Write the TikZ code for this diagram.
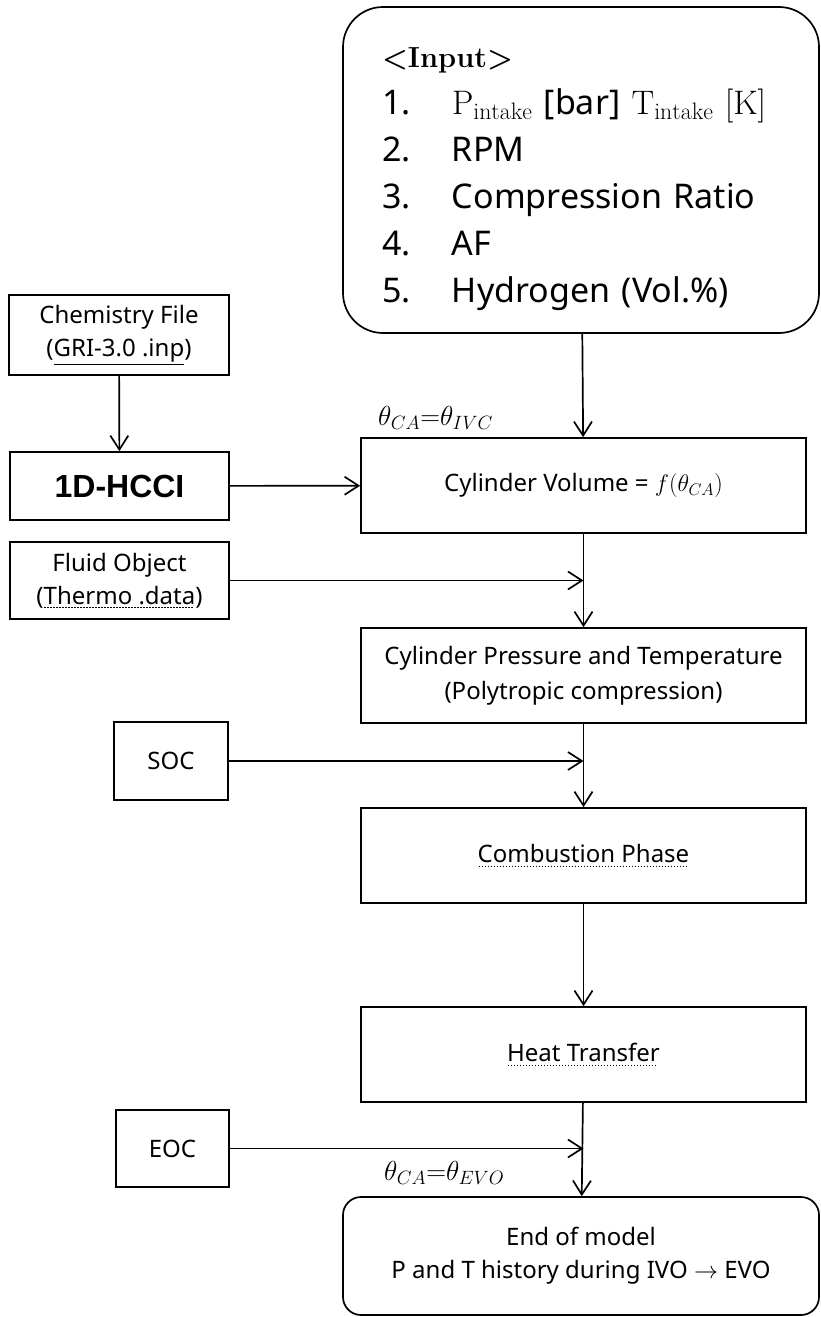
\documentclass[tikz,border=0pt]{standalone}
\usepackage{fix-cm}
\usepackage{fontspec}
\setsansfont{Noto Sans}
\newfontfamily\hccifont{Liberation Sans}
\usetikzlibrary{arrows.meta,positioning}
\newcommand{\dotul}[1]{\setbox0\hbox{#1}\rlap{\raisebox{-4pt}{\hbox to \wd0{\leaders\hbox to 3pt{\hss\rule{1.4pt}{0.9pt}\hss}\hfill}}}\box0}
\tikzstyle{box}=[draw, line width=1.7pt, rectangle, inner sep=0pt, align=center, font=\sffamily\fontsize{24}{33}\selectfont]
\tikzstyle{mainBox}=[box, minimum width=445pt, minimum height=95pt, font=\sffamily\fontsize{24}{35}\selectfont]
\tikzstyle{endBox}=[box, rounded corners=18pt, minimum width=476pt, minimum height=118pt]
\tikzstyle{inputBox}=[draw, line width=1.7pt, rounded corners=40pt, inner sep=0pt, align=left, text width=398pt, minimum width=476pt, minimum height=326pt, font=\sffamily\fontsize{34}{47}\selectfont]
\tikzstyle{edge}=[-{Straight Barb[length=14pt,width=18pt]}, line width=1.7pt]
\tikzstyle{thetaLabel}=[anchor=west, inner sep=0pt, font=\fontsize{27.5}{30}\selectfont]

\begin{document}
\begin{tikzpicture}[x=1pt, y=-1pt]
      \useasboundingbox (0,0) rectangle (821,1317);
      % main column
      \node(input) [inputBox] at (581,170){%
        \rule{0pt}{38pt}{\rmfamily\bfseries\fontsize{29}{34}\selectfont <Input>}\\
        \makebox[70pt][l]{1.}$\mathrm{P}_{\mathrm{intake}}$ [bar] $\mathrm{T}_{\mathrm{intake}}$ {\rmfamily [K]}\\
        \makebox[70pt][l]{2.}RPM\\
        \makebox[70pt][l]{3.}Compression Ratio\\
        \makebox[70pt][l]{4.}AF\\
        \makebox[70pt][l]{5.}Hydrogen (Vol.\%)};
      \node(vol) [mainBox] at (583.5,485.5){Cylinder Volume = $f(\theta_{CA})$};
      \node(pres) [mainBox] at (583.5,675.5){Cylinder Pressure and Temperature\\(Polytropic compression)};
      \node(comb) [mainBox] at (583.5,855.5){\dotul{Combustion Phase}};
      \node(heat) [mainBox] at (583.5,1054.5){\dotul{Heat Transfer}};
      \node(end) [endBox] at (581,1256){End of model\\P and T history during IVO $\rightarrow$ EVO};
      % side boxes
      \node(chem) [box, minimum width=220pt, minimum height=80pt] at (119,335){Chemistry File\\(\underline{GRI-3.0 .inp})};
      \node(hcci) [box, minimum width=219pt, minimum height=68pt, font=\hccifont\bfseries\fontsize{32}{36}\selectfont] at (119.5,486){1D-HCCI};
      \node(fluid) [box, minimum width=219pt, minimum height=77pt] at (119.5,580.5){Fluid Object\\(\dotul{Thermo .data})};
      \node(soc) [box, minimum width=114pt, minimum height=78pt] at (171,761){SOC};
      \node(eoc) [box, minimum width=113pt, minimum height=77pt] at (172.5,1148.5){EOC};
      % labels
      \node(ivc) [thetaLabel] at (378,418){$\theta_{CA}{=}\theta_{IVC}$};
      \node(evo) [thetaLabel] at (384,1173){$\theta_{CA}{=}\theta_{EVO}$};
      % join points on the main line
      \coordinate(fluidIn) at (583.5,580.5);
      \coordinate(socIn) at (583.5,761);
      \coordinate(eocIn) at (583.5,1148.5);
      \draw[edge] (input) -- (vol);
      \draw[edge] (chem) -- (hcci);
      \draw[edge] (hcci) -- (vol);
      \draw[edge] (vol) -- (pres);
      \draw[edge] (fluid) -- (fluidIn);
      \draw[edge] (pres) -- (comb);
      \draw[edge] (soc) -- (socIn);
      \draw[edge] (comb) -- (heat);
      \draw[edge] (heat) -- (end);
      \draw[edge] (eoc) -- (eocIn);
\end{tikzpicture}
\end{document}
